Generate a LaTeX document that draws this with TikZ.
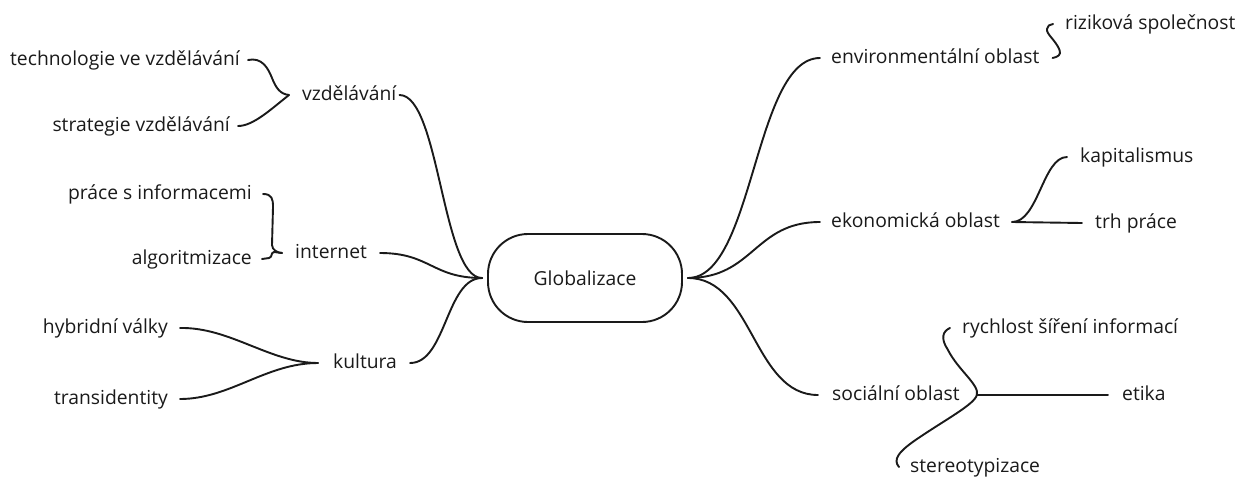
\documentclass[tikz,border=0pt]{standalone}
\usepackage{fontspec}
\setmainfont{Open Sans}
\usetikzlibrary{calc}
\definecolor{txt}{HTML}{1A1A1A}
\definecolor{ln}{HTML}{1A1A1A}
\begin{document}
\begin{tikzpicture}[x=1pt,y=-1pt,
  lbl/.style={inner sep=0pt, text height=10pt, text depth=0pt, font=\fontsize{19.3}{22}\selectfont, text=txt},
  glob/.style={draw=ln, line width=1.9pt, rounded corners=40pt, minimum width=194pt, minimum height=88pt, inner sep=0pt, font=\fontsize{19.3}{22}\selectfont, text=txt},
  conn/.style={line width=1.9pt, draw=ln, line cap=round, line join=round},
  ]
\useasboundingbox[fill=white] (0,0) rectangle (1247,477);

% nodes
\node[lbl, anchor=east] (tech) at (240,60) {technologie ve vzdělávání};
\node[lbl, anchor=east] (strat) at (230,126) {strategie vzdělávání};
\node[lbl, anchor=west] (vzd) at (302,95) {vzdělávání};
\node[lbl, anchor=east] (prace) at (252,194) {práce s informacemi};
\node[lbl, anchor=east] (algo) at (252,259) {algoritmizace};
\node[lbl, anchor=west] (inet) at (295,253) {internet};
\node[lbl, anchor=east] (hyb) at (168,328) {hybridní války};
\node[lbl, anchor=east] (trans) at (168,399) {transidentity};
\node[lbl, anchor=west] (kult) at (333,363) {kultura};
\node[glob] (g) at (585,278) {Globalizace};
\node[lbl, anchor=west] (env) at (831,58) {environmentální oblast};
\node[lbl, anchor=west] (riz) at (1065,24) {riziková společnost};
\node[lbl, anchor=west] (ekon) at (831,222) {ekonomická oblast};
\node[lbl, anchor=west] (kap) at (1080,157) {kapitalismus};
\node[lbl, anchor=west] (trh) at (1095,223) {trh práce};
\node[lbl, anchor=west] (soc) at (832,395) {sociální oblast};
\node[lbl, anchor=west] (ryc) at (962,328) {rychlost šíření informací};
\node[lbl, anchor=west] (etika) at (1122,395) {etika};
\node[lbl, anchor=west] (stereo) at (910,467) {stereotypizace};

% connector points
\coordinate (gL) at ([xshift=-5pt]g.west);
\coordinate (gR) at ([xshift=5pt]g.east);
\coordinate (vzdT) at ([xshift=-13pt]vzd.west);
\coordinate (inetT) at ([xshift=-13pt]inet.west);
\coordinate (kultT) at ([xshift=-15pt]kult.west);
\coordinate (envS) at ([xshift=13pt]env.east);
\coordinate (rizT) at ([xshift=-12pt]riz.west);
\coordinate (ekonJ) at ([xshift=12pt]ekon.east);
\coordinate (socJ) at ([xshift=17pt]soc.east);
\coordinate (rycT) at ([xshift=-12pt]ryc.west);
\coordinate (stT) at ([xshift=-11pt]stereo.west);

% left side
\draw[conn] ([xshift=8pt]tech.east) .. controls +(14,-3) and +(-4,-10) .. ($(vzdT)+(-17,-17)$)
  .. controls +(4,10) and +(-9,-1) .. (vzdT);
\draw[conn] ([xshift=8pt]strat.east) .. controls +(15,0) and +(-19,15) .. (vzdT);
\draw[conn] ([xshift=3pt]vzd.east) .. controls +(40,0) and +(-40,0) .. (gL);

\draw[conn] ([xshift=11pt]prace.east) .. controls +(9,0) and +(0,-8) .. ($(inetT)+(-9,-46)$)
  -- ($(inetT)+(-10,-8)$) .. controls +(0,5) and +(-4,0) .. (inetT);
\draw[conn] ([xshift=10pt]algo.east) -- ($(inetT)+(-13,5)$) .. controls +(4,-1) and +(-4,1) .. ($(inetT)+(-8,-1)$) -- (inetT);
\draw[conn] ([xshift=13pt]inet.east) .. controls +(50,0) and +(-50,0) .. (gL);

\draw[conn] ([xshift=12pt]hyb.east) .. controls +(50,-1) and +(-48,0) .. (kultT);
\draw[conn] ([xshift=12pt]trans.east) .. controls +(50,0) and +(-52,0) .. (kultT);
\draw[conn] ([xshift=13pt]kult.east) .. controls +(36,0) and +(-36,0) .. (gL);

% right side
\draw[conn] (gR) .. controls +(66,0) and +(-66,0) .. ([xshift=-11pt]env.west);
\draw[conn] (gR) .. controls +(66,0) and +(-66,0) .. ([xshift=-11pt]ekon.west);
\draw[conn] (gR) .. controls +(65,0) and +(-65,0) .. ([xshift=-14pt]soc.west);

\draw[conn] (envS) .. controls +(5,-1) and +(2,5) .. ($(envS)+(7,-8)$)
  .. controls +(-4,-10) and +(-1,5) .. ($(rizT)+(-6,5)$)
  .. controls +(0,-3) and +(-3,0) .. (rizT);

\draw[conn] (ekonJ) .. controls +(26,0) and +(-24,0) .. ([xshift=-13pt]kap.west);
\draw[conn] (ekonJ) .. controls +(35,0) and +(-35,0) .. ([xshift=-13pt]trh.west);

\draw[conn] (socJ) -- ([xshift=-14pt]etika.west);
\draw[conn] (rycT) .. controls +(-7,3) and +(-8,-12) .. ($(rycT)+(-2,22)$)
  .. controls +(10,20) and +(3,-10) .. (socJ);
\draw[conn] (socJ) .. controls +(-2,9) and +(25,-17) .. ($(stT)+(21,-30)$)
  .. controls +(-23,15) and +(-6,-7) .. (stT);
\end{tikzpicture}
\end{document}
